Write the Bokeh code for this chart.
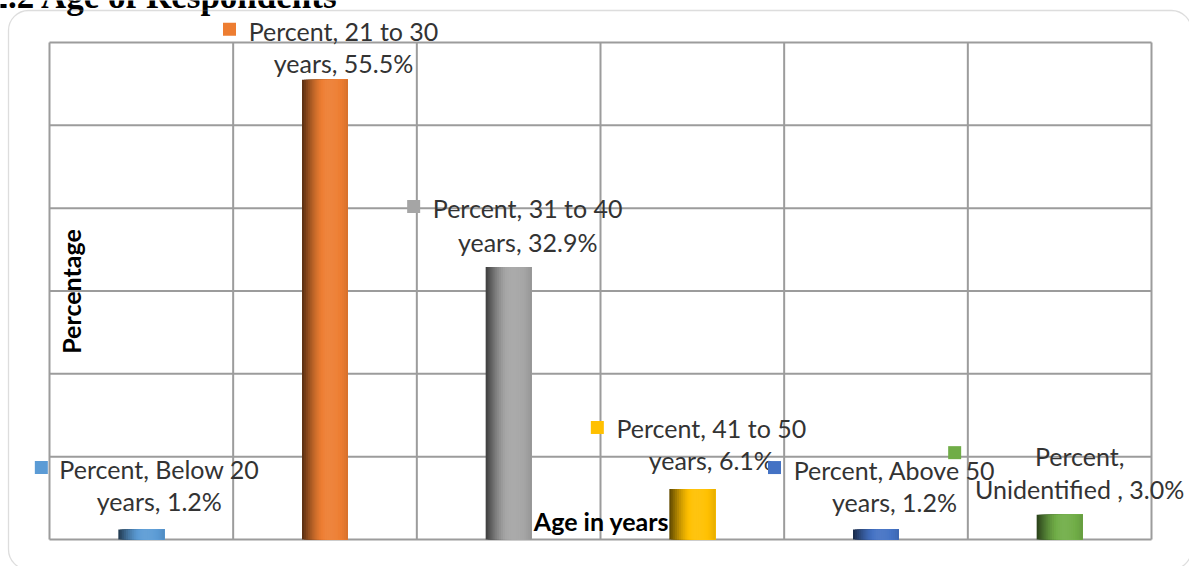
import math
from bokeh.plotting import figure
from bokeh.models import Range1d, BoxAnnotation
from bokeh.core.properties import value
from bokeh.embed import file_html
from bokeh.resources import INLINE

# ---- data ----
series_name = "Percent"
categories = ["Below 20 years", "21 to 30 years", "31 to 40 years",
              "41 to 50 years", "Above 50 years", "Unidentified "]
percent = [1.2, 55.5, 32.9, 6.1, 1.2, 3.0]
bar_colors = ["#5B9BD5", "#ED7D31", "#A5A5A5", "#FFC000", "#4472C4", "#70AD47"]
y_gridlines = [0, 10, 20, 30, 40, 50, 60]
x_gridlines = [0, 1, 2, 3, 4, 5, 6]

# ---- canvas geometry (pixels) ----
W, H = 1189, 566
PL, PR, PT, PB = 49, 1151, 42, 539          # plot area edges
UX = (PR - PL) / len(categories)           # px per category
UY = (PB - PT) / 60.0                      # px per percent


def dx(pix):
    return pix / UX


def dy(pix):
    return pix / UY


def px(xpix):
    return (xpix - PL) / UX


def py(ypix):
    return (PB - ypix) / UY


p = figure(width=W, height=H, output_backend="svg", toolbar_location=None,
           x_range=Range1d(px(0), px(W)), y_range=Range1d(py(H), py(0)),
           min_border=0, min_border_left=0, min_border_right=0,
           min_border_top=0, min_border_bottom=0)
p.axis.visible = False
p.grid.visible = False
p.outline_line_color = None
p.background_fill_color = "white"
p.border_fill_color = "white"

# rounded chart border
p.add_layout(BoxAnnotation(left=px(8), right=px(1191), top=py(10), bottom=py(569),
                           border_radius=20, fill_alpha=0,
                           line_color="#8f8f8f", line_width=1.3))

# gridlines / plot frame
grid_col = "#9c9c9c"
p.segment(x0=x_gridlines, x1=x_gridlines, y0=[0] * len(x_gridlines),
          y1=[60] * len(x_gridlines), line_color=grid_col, line_width=2)
p.segment(x0=[0] * len(y_gridlines), x1=[6] * len(y_gridlines),
          y0=y_gridlines, y1=y_gridlines, line_color=grid_col, line_width=2)


# cylinder-like shading across each bar
def shade(hexcol, f):
    r, g, b = (int(hexcol[i:i + 2], 16) for i in (1, 3, 5))
    if f <= 1:
        c = [v * f for v in (r, g, b)]
    else:
        c = [v + (255 - v) * (f - 1) for v in (r, g, b)]
    return "#%02x%02x%02x" % tuple(max(0, min(255, int(round(v)))) for v in c)


def profile(t):
    if t < 0.58:
        return 0.36 + (1.06 - 0.36) * math.sin(math.pi / 2 * t / 0.58)
    return 1.06 - 0.16 * ((t - 0.58) / 0.42) ** 2


N_STRIPS = 24
bar_w = dx(46)
ql, qr, qt, qcol = [], [], [], []
for i, (v, col) in enumerate(zip(percent, bar_colors)):
    xc = i + 0.5
    left, right = xc - bar_w / 2, xc + bar_w / 2
    for k in range(N_STRIPS):
        # each strip runs to the bar's right edge; the next one paints over it
        ql.append(left + k * bar_w / N_STRIPS)
        qr.append(right)
        qt.append(v)
        qcol.append(shade(col, profile((k + 0.5) / N_STRIPS)))
p.quad(left=ql, right=qr, top=qt, bottom=0, fill_color=qcol, line_color=None)

# ---- data labels ----
label_dx = [18, 18.5, 19, 19, 18.5, 20]          # block centre vs bar centre (px)
line2_dy = [29, 17, 24.5, 28.5, 28, 26]          # line 2 above bar top (px)
line_gap = [32, 32, 34, 32, 32, 33]
key_dx = [-118, -114, -114, -114, -120, -125]    # legend key vs block centre (px)
key_dy = [1, 1.5, 2, 1, 2, 3]

l1x, l1y, l1t, l2x, l2y, l2t, kx, ky = [], [], [], [], [], [], [], []
for i, (cat, v) in enumerate(zip(categories, percent)):
    if cat.endswith(" years"):
        t1 = f"{series_name}, {cat[:-6]}"
        t2 = f"years, {v:.1f}%"
    else:
        t1 = f"{series_name},"
        t2 = f"{cat}, {v:.1f}%"
    cx = i + 0.5 + dx(label_dx[i])
    y2 = v + dy(line2_dy[i])
    y1 = y2 + dy(line_gap[i])
    l1x.append(cx); l1y.append(y1); l1t.append(t1)
    l2x.append(cx); l2y.append(y2); l2t.append(t2)
    kx.append(cx + dx(key_dx[i])); ky.append(y1 + dy(key_dy[i]))

lab_font = value("Lato")
lab_col = "#333333"
for xs, ys, ts in ((l1x, l1y, l1t), (l2x, l2y, l2t)):
    p.text(x=xs, y=ys, text=ts, text_font=lab_font, text_font_size="25px",
           text_color=lab_col, text_align="center", text_baseline="middle")
p.scatter(x=kx, y=ky, marker="square", size=13, fill_color=bar_colors,
          line_color=None)

# axis titles drawn inside the plot area
p.text(x=[px(70)], y=[py(291)], text=["Percentage"], angle=math.pi / 2,
       text_font=lab_font, text_font_style="bold", text_font_size="25px",
       text_color="black", text_align="center", text_baseline="middle")
p.text(x=[px(601)], y=[py(520)], text=["Age in years"],
       text_font=lab_font, text_font_style="bold", text_font_size="25px",
       text_color="black", text_align="center", text_baseline="middle")

# section heading (runs off the top of the page)
p.text(x=[px(338)], y=[py(-4)], text=["4.2.2 Age of Respondents"],
       text_font=value("Liberation Serif"), text_font_style="bold",
       text_font_size="35px", text_color="black",
       text_align="right", text_baseline="alphabetic")

open("out.html", "w").write(file_html(p, INLINE))
